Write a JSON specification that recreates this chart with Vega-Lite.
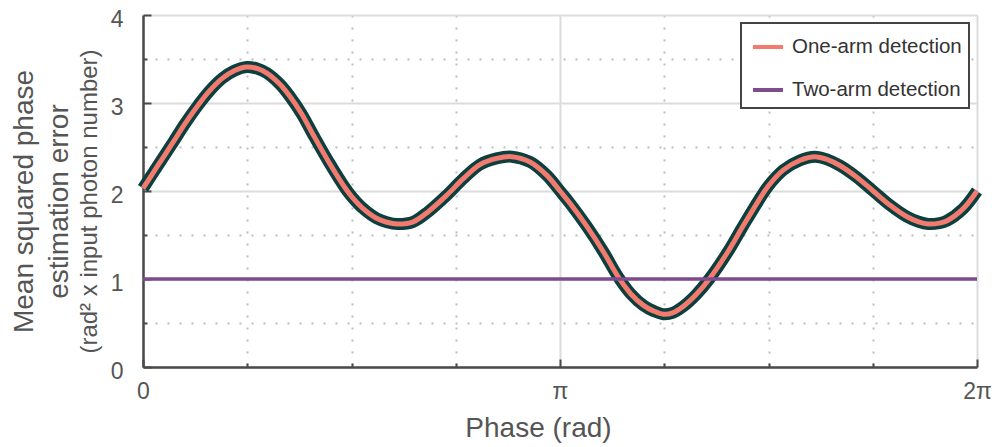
{
  "$schema": "https://vega.github.io/schema/vega-lite/v6.json",
  "width": 834,
  "height": 352,
  "autosize": {"type": "none"},
  "padding": {"left": 143, "top": 15, "right": 18, "bottom": 80},
  "background": "white",
  "config": {
    "view": {"stroke": null},
    "font": "Liberation Sans"
  },
  "datasets": {
    "onearm": [
      {"phase": 0.000, "err": 2.03, "series": "One-arm detection"},
      {"phase": 0.033, "err": 2.27, "series": "One-arm detection"},
      {"phase": 0.073, "err": 2.56, "series": "One-arm detection"},
      {"phase": 0.100, "err": 2.76, "series": "One-arm detection"},
      {"phase": 0.133, "err": 2.98, "series": "One-arm detection"},
      {"phase": 0.160, "err": 3.14, "series": "One-arm detection"},
      {"phase": 0.190, "err": 3.28, "series": "One-arm detection"},
      {"phase": 0.220, "err": 3.37, "series": "One-arm detection"},
      {"phase": 0.249, "err": 3.41, "series": "One-arm detection"},
      {"phase": 0.275, "err": 3.39, "series": "One-arm detection"},
      {"phase": 0.297, "err": 3.34, "series": "One-arm detection"},
      {"phase": 0.329, "err": 3.21, "series": "One-arm detection"},
      {"phase": 0.353, "err": 3.07, "series": "One-arm detection"},
      {"phase": 0.380, "err": 2.88, "series": "One-arm detection"},
      {"phase": 0.408, "err": 2.64, "series": "One-arm detection"},
      {"phase": 0.448, "err": 2.31, "series": "One-arm detection"},
      {"phase": 0.484, "err": 2.04, "series": "One-arm detection"},
      {"phase": 0.500, "err": 1.94, "series": "One-arm detection"},
      {"phase": 0.528, "err": 1.80, "series": "One-arm detection"},
      {"phase": 0.560, "err": 1.69, "series": "One-arm detection"},
      {"phase": 0.585, "err": 1.645, "series": "One-arm detection"},
      {"phase": 0.610, "err": 1.625, "series": "One-arm detection"},
      {"phase": 0.648, "err": 1.65, "series": "One-arm detection"},
      {"phase": 0.684, "err": 1.765, "series": "One-arm detection"},
      {"phase": 0.728, "err": 1.95, "series": "One-arm detection"},
      {"phase": 0.768, "err": 2.14, "series": "One-arm detection"},
      {"phase": 0.808, "err": 2.30, "series": "One-arm detection"},
      {"phase": 0.848, "err": 2.37, "series": "One-arm detection"},
      {"phase": 0.884, "err": 2.39, "series": "One-arm detection"},
      {"phase": 0.928, "err": 2.33, "series": "One-arm detection"},
      {"phase": 0.968, "err": 2.18, "series": "One-arm detection"},
      {"phase": 1.000, "err": 2.00, "series": "One-arm detection"},
      {"phase": 1.024, "err": 1.86, "series": "One-arm detection"},
      {"phase": 1.064, "err": 1.60, "series": "One-arm detection"},
      {"phase": 1.104, "err": 1.31, "series": "One-arm detection"},
      {"phase": 1.140, "err": 1.02, "series": "One-arm detection"},
      {"phase": 1.170, "err": 0.83, "series": "One-arm detection"},
      {"phase": 1.200, "err": 0.70, "series": "One-arm detection"},
      {"phase": 1.225, "err": 0.635, "series": "One-arm detection"},
      {"phase": 1.248, "err": 0.60, "series": "One-arm detection"},
      {"phase": 1.270, "err": 0.615, "series": "One-arm detection"},
      {"phase": 1.296, "err": 0.69, "series": "One-arm detection"},
      {"phase": 1.326, "err": 0.82, "series": "One-arm detection"},
      {"phase": 1.358, "err": 1.00, "series": "One-arm detection"},
      {"phase": 1.400, "err": 1.29, "series": "One-arm detection"},
      {"phase": 1.440, "err": 1.61, "series": "One-arm detection"},
      {"phase": 1.480, "err": 1.92, "series": "One-arm detection"},
      {"phase": 1.500, "err": 2.06, "series": "One-arm detection"},
      {"phase": 1.536, "err": 2.24, "series": "One-arm detection"},
      {"phase": 1.576, "err": 2.35, "series": "One-arm detection"},
      {"phase": 1.611, "err": 2.39, "series": "One-arm detection"},
      {"phase": 1.640, "err": 2.36, "series": "One-arm detection"},
      {"phase": 1.671, "err": 2.29, "series": "One-arm detection"},
      {"phase": 1.711, "err": 2.16, "series": "One-arm detection"},
      {"phase": 1.751, "err": 2.00, "series": "One-arm detection"},
      {"phase": 1.791, "err": 1.84, "series": "One-arm detection"},
      {"phase": 1.831, "err": 1.71, "series": "One-arm detection"},
      {"phase": 1.860, "err": 1.65, "series": "One-arm detection"},
      {"phase": 1.883, "err": 1.625, "series": "One-arm detection"},
      {"phase": 1.910, "err": 1.635, "series": "One-arm detection"},
      {"phase": 1.927, "err": 1.66, "series": "One-arm detection"},
      {"phase": 1.967, "err": 1.80, "series": "One-arm detection"},
      {"phase": 2.000, "err": 2.00, "series": "One-arm detection"}
    ],
    "twoarm": [
      {"phase": 0, "err": 1, "series": "Two-arm detection"},
      {"phase": 2, "err": 1, "series": "Two-arm detection"}
    ]
  },
  "resolve": {"axis": {"x": "independent", "y": "independent"}},
  "layer": [
    {
      "data": {"name": "onearm"},
      "mark": {"type": "line", "color": "#0c3f3d", "strokeWidth": 12, "interpolate": "catmull-rom", "strokeCap": "butt", "strokeJoin": "round"},
      "encoding": {
        "x": {
          "field": "phase", "type": "quantitative",
          "scale": {"domain": [0, 2], "nice": false, "zero": false},
          "axis": {
            "orient": "bottom", "values": [0, 1, 2],
            "labelExpr": "datum.value == 0 ? '0' : datum.value == 1 ? 'π' : '2π'",
            "labelFlush": false, "labelOverlap": false,
            "tickSize": -8, "tickWidth": 2, "tickColor": "#4a4a4a",
            "domainColor": "#4a4a4a", "domainWidth": 2.5,
            "grid": true, "gridColor": "#dcdcdc", "gridWidth": 2,
            "labelFontSize": 23, "labelColor": "#555555", "labelPadding": 21,
            "title": "Phase (rad)", "titleFontSize": 28, "titleFontWeight": "normal", "titleColor": "#555555",
            "titleX": 395, "titleY": 47, "titleBaseline": "top", "titleAlign": "center"
          }
        },
        "y": {
          "field": "err", "type": "quantitative",
          "scale": {"domain": [0, 4], "nice": false},
          "axis": {
            "orient": "left", "values": [0, 1, 2, 3, 4],
            "labelOverlap": false, "labelFlush": false,
            "tickSize": -8, "tickWidth": 2, "tickColor": "#4a4a4a",
            "domainColor": "#4a4a4a", "domainWidth": 2.5,
            "grid": true, "gridColor": "#dcdcdc", "gridWidth": 2,
            "labelFontSize": 23, "labelColor": "#555555", "labelPadding": 28, "labelOffset": 4,
            "title": "(rad² x input photon number)", "titleFontSize": 24, "titleFontWeight": "normal", "titleColor": "#555555",
            "titleX": -54, "titleY": 186, "titleBaseline": "middle", "titleAlign": "center", "titleAngle": -90
          }
        }
      }
    },
    {
      "data": {"name": "onearm"},
      "mark": {"type": "line", "strokeWidth": 5, "interpolate": "catmull-rom", "strokeCap": "butt"},
      "encoding": {
        "x": {
          "field": "phase", "type": "quantitative",
          "axis": {
            "orient": "bottom", "values": [0.25, 0.5, 0.75, 1.25, 1.5, 1.75],
            "labels": false, "domain": false,
            "tickSize": -4, "tickWidth": 2, "tickColor": "#4a4a4a",
            "grid": true, "gridColor": "#bdbdbd", "gridDash": [2, 10], "gridWidth": 2,
            "title": null
          }
        },
        "y": {
          "field": "err", "type": "quantitative",
          "axis": {
            "orient": "left", "values": [0.5, 1.5, 2.5, 3.5],
            "labels": false, "domain": false,
            "tickSize": -4, "tickWidth": 2, "tickColor": "#4a4a4a",
            "grid": true, "gridColor": "#bdbdbd", "gridDash": [2, 10], "gridWidth": 2,
            "title": ["Mean squared phase", "estimation error"], "titleFontSize": 28, "titleFontWeight": "normal",
            "titleColor": "#555555", "titleLineHeight": 35,
            "titleX": -119, "titleY": 186, "titleBaseline": "middle", "titleAlign": "center", "titleAngle": -90
          }
        },
        "color": {
          "field": "series", "type": "nominal",
          "scale": {"domain": ["One-arm detection", "Two-arm detection"], "range": ["#f27a6e", "#7e4b8c"]},
          "legend": {
            "title": null, "orient": "top-right", "offset": 8,
            "symbolType": "stroke", "symbolSize": 900, "symbolStrokeWidth": 4, "symbolOffset": 3,
            "labelFontSize": 20.5, "labelColor": "#333333", "labelFont": "Liberation Sans", "labelOffset": 7, "labelLimit": 400,
            "labelExpr": "datum.label + '\u2002\u2009'",
            "padding": 7, "rowPadding": 15,
            "strokeColor": "#444444", "fillColor": "white",
            "encode": {"legend": {"update": {"strokeWidth": {"value": 2}}}}
          }
        }
      }
    },
    {
      "data": {"name": "twoarm"},
      "mark": {"type": "line", "strokeWidth": 3.5},
      "encoding": {
        "x": {"field": "phase", "type": "quantitative", "axis": null},
        "y": {"field": "err", "type": "quantitative", "axis": null},
        "color": {"field": "series", "type": "nominal"}
      }
    }
  ]
}
